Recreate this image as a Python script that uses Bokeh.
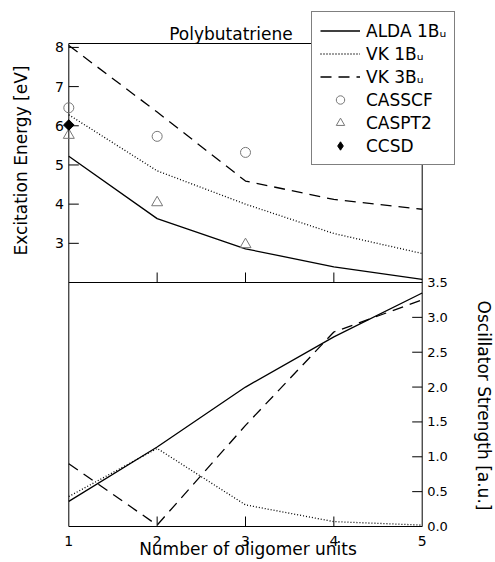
import math
from bokeh.plotting import figure
from bokeh.models import Range1d, FixedTicker, Legend, LegendItem
from bokeh.core.properties import value
from bokeh.embed import file_html
from bokeh.resources import INLINE

# ---------------- data ----------------
units = [1, 2, 3, 4, 5]
# excitation energies [eV]
alda_1bu_energy = [5.22, 3.63, 2.86, 2.40, 2.08]
vk_1bu_energy = [6.28, 4.85, 4.00, 3.25, 2.74]
vk_3bu_energy = [8.05, 6.35, 4.59, 4.12, 3.87]
casscf_units = [1, 2, 3]
casscf_energy = [6.46, 5.73, 5.32]
caspt2_units = [1, 2, 3]
caspt2_energy = [5.76, 4.04, 2.97]
ccsd_units = [1]
ccsd_energy = [6.02]
# oscillator strengths [a.u.]
alda_1bu_osc = [0.36, 1.14, 2.00, 2.72, 3.35]
vk_1bu_osc = [0.43, 1.12, 0.31, 0.07, 0.02]
vk_3bu_osc = [0.90, 0.02, 1.45, 2.79, 3.25]

energy_ticks = [3, 4, 5, 6, 7, 8]
energy_tick_labels = ["3", "4", "5", "6", "7", "8"]
osc_ticks = [0.0, 0.5, 1.0, 1.5, 2.0, 2.5, 3.0, 3.5]
osc_tick_labels = ["0.0", "0.5", "1.0", "1.5", "2.0", "2.5", "3.0", "3.5"]
x_ticks = [1, 2, 3, 4, 5]

# ---------------- geometry (pixels) ----------------
W, H = 495, 562
B_BOTTOM = 27
FRAME_H = H - B_BOTTOM            # frame spans the full width, from the top
X_LO, X_HI = 1, 5
X_LO_PX, X_HI_PX = 68.3, 421.7    # where x=1 and x=5 sit
PX_PER_X = (X_HI_PX - X_LO_PX) / (X_HI - X_LO)
E_LO, E_HI = 2.0, 8.1
E_TOP_PX, E_BOT_PX = 43.0, 282.0  # energy panel, from canvas top
O_LO, O_HI = 0.0, 3.5
O_TOP_PX, O_BOT_PX = 282.0, 526.0
PX_PER_E = (E_BOT_PX - E_TOP_PX) / (E_HI - E_LO)
PX_PER_O = (O_BOT_PX - O_TOP_PX) / (O_HI - O_LO)

x_start = X_LO - X_LO_PX / PX_PER_X
x_end = X_LO + (W - X_LO_PX) / PX_PER_X
e_top = E_HI + E_TOP_PX / PX_PER_E
e_bot = E_LO - (FRAME_H - E_BOT_PX) / PX_PER_E
o_top = O_LO + O_BOT_PX / PX_PER_O
o_bot = O_LO - (FRAME_H - O_BOT_PX) / PX_PER_O


def x_at(px):
    return X_LO + (px - X_LO_PX) / PX_PER_X


def e_at(py):
    return E_HI - (py - E_TOP_PX) / PX_PER_E


def o_at(py):
    return O_LO + (O_BOT_PX - py) / PX_PER_O


FONT = "DejaVu Sans"
TICK = 10  # inward tick length, px

p = figure(width=W, height=H, output_backend="svg", toolbar_location=None,
           x_range=Range1d(x_start, x_end), y_range=Range1d(e_bot, e_top),
           y_axis_location=None, x_axis_location="below",
           min_border_left=0, min_border_right=0, min_border_top=0,
           min_border_bottom=B_BOTTOM,
           background_fill_color="white", border_fill_color="white")
p.extra_y_ranges = {"osc": Range1d(o_bot, o_top)}
p.xgrid.visible = False
p.ygrid.visible = False
p.outline_line_color = None

# ---- real bottom x axis (labels) ----
xa = p.xaxis[0]
xa.ticker = FixedTicker(ticks=x_ticks)
xa.major_tick_in = 0
xa.major_tick_out = 0
xa.major_tick_line_color = None
xa.minor_tick_line_color = None
xa.axis_line_color = None
xa.major_label_text_font = FONT
xa.major_label_text_font_size = "14px"
xa.major_label_text_color = "black"
xa.major_label_standoff = 0
xa.axis_label = "Number of oligomer units"
xa.axis_label_text_font = FONT
xa.axis_label_text_font_size = "17px"
xa.axis_label_text_font_style = "normal"
xa.axis_label_text_color = "black"
xa.axis_label_standoff = -10

# ---- panel frames ----
p.quad(left=[X_LO], right=[X_HI], bottom=[E_LO], top=[E_HI],
       fill_color=None, line_color="black", line_width=1)
p.quad(left=[X_LO], right=[X_HI], bottom=[O_LO], top=[O_HI], y_range_name="osc",
       fill_color=None, line_color="black", line_width=1)

# ---- inward x ticks on the bottom edge of both panels ----
mid = x_ticks[1:-1]
p.segment(x0=mid, y0=[E_LO] * len(mid), x1=mid, y1=[E_LO + TICK / PX_PER_E] * len(mid),
          line_color="black", line_width=1)
p.segment(x0=mid, y0=[O_LO] * len(mid), x1=mid, y1=[O_LO + TICK / PX_PER_O] * len(mid),
          y_range_name="osc", line_color="black", line_width=1)

# ---- left (energy) ticks and labels ----
dx_tick = TICK / PX_PER_X
p.segment(x0=[X_LO] * len(energy_ticks), y0=energy_ticks,
          x1=[X_LO + dx_tick] * len(energy_ticks), y1=energy_ticks,
          line_color="black", line_width=1)
p.text(x=[X_LO] * len(energy_ticks), y=energy_ticks, text=energy_tick_labels,
       x_offset=-5, text_align="right", text_baseline="middle",
       text_font=value(FONT), text_font_size="14px", text_color="black")

# ---- right (oscillator) ticks and labels ----
p.segment(x0=[X_HI] * len(osc_ticks), y0=osc_ticks,
          x1=[X_HI - dx_tick] * len(osc_ticks), y1=osc_ticks, y_range_name="osc",
          line_color="black", line_width=1)
p.text(x=[X_HI] * len(osc_ticks), y=osc_ticks, text=osc_tick_labels, y_range_name="osc",
       x_offset=5, text_align="left", text_baseline="middle",
       text_font=value(FONT), text_font_size="13px", text_color="black")

# ---- axis titles and plot title ----
p.text(x=[x_at(20)], y=[e_at(160)], text=["Excitation Energy [eV]"], angle=math.pi / 2,
       text_align="center", text_baseline="middle",
       text_font=value(FONT), text_font_size="17px", text_color="black")
p.text(x=[x_at(483)], y=[o_at(405)], text=["Oscillator Strength [a.u.]"], y_range_name="osc",
       angle=-math.pi / 2, text_align="center", text_baseline="middle",
       text_font=value(FONT), text_font_size="17px", text_color="black")
p.text(x=[x_at(230.5)], y=[e_at(33)], text=["Polybutatriene"],
       text_align="center", text_baseline="alphabetic",
       text_font=value(FONT), text_font_size="17px", text_color="black")

LW = 1.3
DOT = "1 2"
DASH = "11 7"

# ---- energy panel ----
r_alda = p.line(units, alda_1bu_energy, line_color="black", line_width=LW)
r_vk1 = p.line(units, vk_1bu_energy, line_color="black", line_width=LW, line_dash=DOT)
r_vk3 = p.line(units, vk_3bu_energy, line_color="black", line_width=LW, line_dash=DASH)
r_casscf = p.scatter(casscf_units, casscf_energy, marker="circle", size=10,
                     fill_color=None, line_color="#777777", line_width=1)
r_caspt2 = p.scatter(caspt2_units, caspt2_energy, marker="triangle", size=11,
                     fill_color=None, line_color="#777777", line_width=1)
# CCSD: a diamond (used by the legend) under a square turned by 45 degrees
r_ccsd = p.scatter(ccsd_units, ccsd_energy, marker="diamond", size=10,
                   fill_color="black", line_color="black")
p.scatter(ccsd_units, ccsd_energy, marker="square", angle=math.pi / 4, size=7.5,
          fill_color="black", line_color="black")

# ---- oscillator panel ----
p.line(units, alda_1bu_osc, y_range_name="osc", line_color="black", line_width=LW)
p.line(units, vk_1bu_osc, y_range_name="osc", line_color="black", line_width=LW, line_dash=DOT)
p.line(units, vk_3bu_osc, y_range_name="osc", line_color="black", line_width=LW, line_dash=DASH)

# ---- legend ----
legend = Legend(items=[
    LegendItem(label="ALDA 1B\u1d64", renderers=[r_alda]),
    LegendItem(label="VK 1B\u1d64", renderers=[r_vk1]),
    LegendItem(label="VK 3B\u1d64", renderers=[r_vk3]),
    LegendItem(label="CASSCF", renderers=[r_casscf]),
    LegendItem(label="CASPT2", renderers=[r_caspt2]),
    LegendItem(label="CCSD", renderers=[r_ccsd]),
], location=(311, FRAME_H - 165))
legend.label_text_font = FONT
legend.label_text_font_size = "17px"
legend.label_text_color = "black"
legend.glyph_width = 40
legend.glyph_height = 21
legend.label_height = 21
legend.label_standoff = 6
legend.spacing = 2
legend.padding = 8
legend.margin = 0
legend.border_line_color = "black"
legend.border_line_width = 1
legend.background_fill_color = "white"
legend.background_fill_alpha = 1.0
p.add_layout(legend, "center")

open("out.html", "w").write(file_html(p, INLINE))
